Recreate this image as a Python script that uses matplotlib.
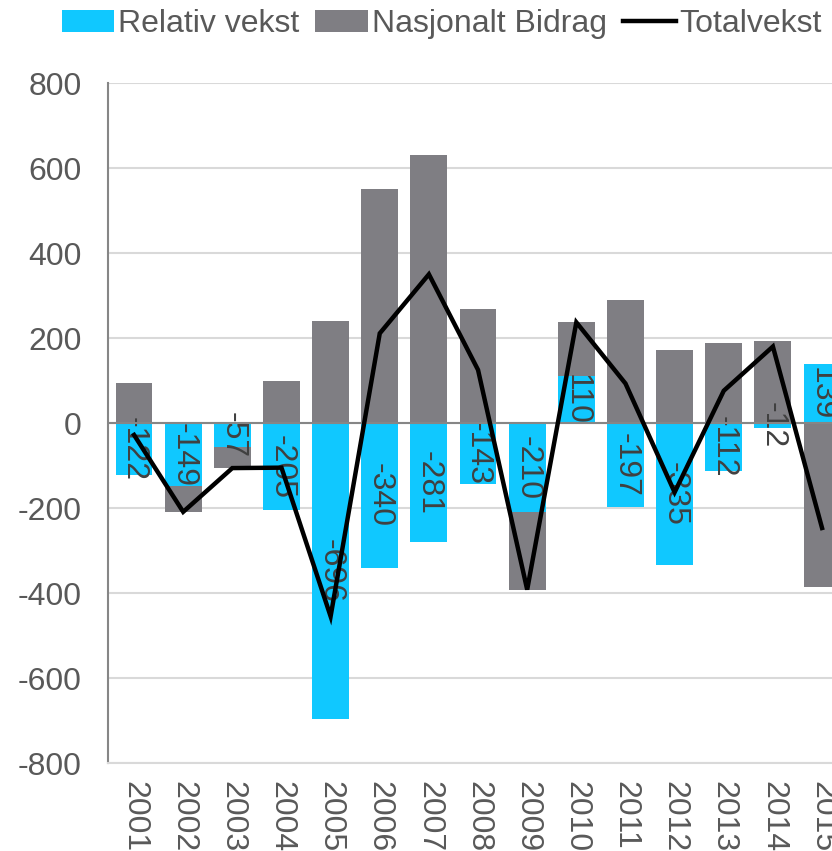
import matplotlib.pyplot as plt
import numpy as np

plt.rcParams['font.family'] = ['Liberation Sans', 'DejaVu Sans']
plt.rcParams['axes.unicode_minus'] = False

years = ['2001', '2002', '2003', '2004', '2005', '2006', '2007', '2008',
         '2009', '2010', '2011', '2012', '2013', '2014', '2015']
relativ = [-122, -149, -57, -205, -696, -340, -281, -143, -210, 110, -197, -335, -112, -12, 139]
nasjonalt = [94, -60, -49, 100, 241, 551, 631, 268, -182, 127, 290, 172, 188, 192, -386]
total = [-28, -209, -106, -105, -455, 211, 350, 125, -392, 237, 93, -163, 76, 180, -247]

cyan = '#10C8FF'
grey = '#7F7E83'
txt = '#595959'

fig = plt.figure(figsize=(8.32, 8.51), dpi=100)
ax = fig.add_axes([0.1298, 0.1034, 0.886, 0.799])

x = np.arange(len(years))
rel = np.array(relativ)
nat = np.array(nasjonalt)
# stack positive and negative parts separately
nat_bottom = np.where(np.sign(nat) == np.sign(rel), rel, 0)

b1 = ax.bar(x, rel, width=0.75, color=cyan, label='Relativ vekst', zorder=2)
b2 = ax.bar(x, nat, bottom=nat_bottom, width=0.75, color=grey, label='Nasjonalt Bidrag', zorder=2)
l1, = ax.plot(x, total, color='black', lw=3.2, label='Totalvekst', zorder=4, solid_joinstyle='miter')

for xi, v in zip(x, relativ):
    ax.text(xi, v / 2, str(v), rotation=270, ha='center', va='center',
            fontsize=23, color='#404040', zorder=3)

ax.set_ylim(-800, 800)
ax.set_xlim(-0.53, 14.47)
ax.set_yticks(range(-800, 801, 200))
ax.set_xticks(x)
ax.set_xticklabels(years, rotation=270)
ax.tick_params(axis='both', length=0, labelsize=23, colors=txt)
ax.tick_params(axis='x', pad=13)
ax.tick_params(axis='y', pad=19)
ax.yaxis.grid(True, color='#D9D9D9', lw=1.5, zorder=0)
ax.set_axisbelow(True)
ax.axhline(0, color='#868686', lw=1.5, zorder=3)
for s in ['top', 'right']:
    ax.spines[s].set_visible(False)
ax.spines['left'].set_color('#868686')
ax.spines['left'].set_linewidth(1.5)
ax.spines['bottom'].set_color('#D9D9D9')
ax.spines['bottom'].set_linewidth(1.5)

fig.legend([b1, b2, l1], ['Relativ vekst', 'Nasjonalt Bidrag', 'Totalvekst'],
           loc='upper left', bbox_to_anchor=(0.051, 1.012), ncol=3, frameon=False,
           fontsize=23, labelcolor=txt, handlelength=1.65, handletextpad=0.12,
           columnspacing=0.5, borderaxespad=0.2)

fig.savefig('out.png', dpi=100)
